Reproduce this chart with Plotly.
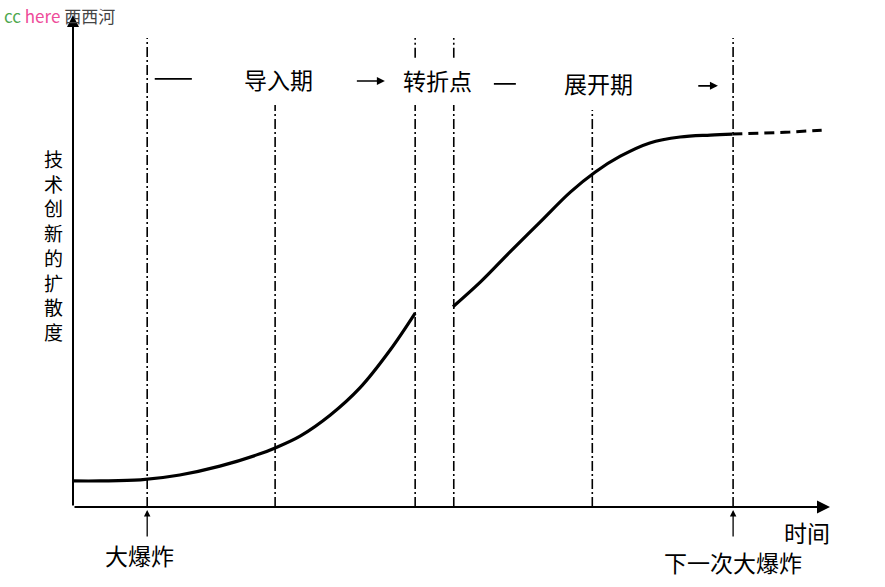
import plotly.graph_objects as go

# ---- data (time in arbitrary units 0..100, diffusion 0..100) ----
intro_t = [0, 3.6, 8.9, 14.1, 19.4, 24.7, 26.7, 30.0, 34.0, 37.9, 41.9, 45.2]
intro_d = [5.3, 5.3, 5.5, 6.5, 8.3, 10.8, 12.0, 14.4, 18.7, 24.2, 31.9, 39.4]

deploy_t = [50.2, 53.8, 57.7, 61.7, 65.7, 69.0, 72.3, 76.2, 80.2, 84.2, 87.1]
deploy_d = [40.7, 45.7, 51.8, 57.9, 64.0, 68.1, 71.3, 74.0, 75.2, 75.6, 75.8]

future_t = [87.1, 90.8, 94.7, 98.9]
future_d = [75.8, 76.0, 76.2, 76.6]

# event/phase boundary lines: time, top of line, optional gap (from, to)
vline_t = [9.8, 26.7, 45.2, 50.3, 68.6, 87.2]
vline_top = [95.3, 81.7, 95.3, 95.3, 80.7, 95.3]
vline_gap = [None, None, (81.7, 91.3), (81.7, 91.3), None, None]

phase_labels = ["导入期", "转折点", "展开期"]
phase_label_t = [27.1, 48.1, 69.4]
phase_label_d = [87.0, 86.8, 86.2]

bang_labels = ["大爆炸", "下一次大爆炸"]
bang_t = [9.8, 87.2]

FONT = "Noto Sans CJK SC, Noto Sans, sans-serif"
LABEL_SIZE = 23

fig = go.Figure()

# vertical dash-dot lines
for t, top, gap in zip(vline_t, vline_top, vline_gap):
    if gap is None:
        xs, ys = [t, t], [0, top]
    else:
        xs, ys = [t, t, None, t, t], [0, gap[0], None, gap[1], top]
    fig.add_trace(go.Scatter(x=xs, y=ys, mode="lines",
                             line=dict(color="black", width=1.6, dash="10px,3px,2px,3px"),
                             hoverinfo="skip", showlegend=False))

# curves
fig.add_trace(go.Scatter(x=intro_t, y=intro_d, mode="lines", line_shape="spline",
                         line=dict(color="black", width=3.2), showlegend=False))
fig.add_trace(go.Scatter(x=deploy_t, y=deploy_d, mode="lines", line_shape="spline",
                         line=dict(color="black", width=3.2), showlegend=False))
fig.add_trace(go.Scatter(x=future_t, y=future_d, mode="lines",
                         line=dict(color="black", width=3, dash="10px,6px"), showlegend=False))

ann = []
# axes with arrows
ann.append(dict(x=100, y=0, ax=0, ay=0, xref="x", yref="y", axref="x", ayref="y",
                showarrow=True, arrowhead=2, arrowsize=1.3, arrowwidth=2, arrowcolor="black", text=""))
ann.append(dict(x=0, y=100, ax=0, ay=0, xref="x", yref="y", axref="x", ayref="y",
                showarrow=True, arrowhead=2, arrowsize=1.2, arrowwidth=2, arrowcolor="black", text=""))

# timeline marks
ann.append(dict(x=15.7, y=87.0, ax=10.6, ay=87.0, xref="x", yref="y", axref="x", ayref="y",
                showarrow=True, arrowhead=0, arrowwidth=1.8, arrowcolor="black", text=""))
ann.append(dict(x=41.2, y=86.6, ax=37.3, ay=86.6, xref="x", yref="y", axref="x", ayref="y",
                showarrow=True, arrowhead=2, arrowsize=1, arrowwidth=1.6, arrowcolor="black", text=""))
ann.append(dict(x=58.5, y=86.0, ax=55.4, ay=86.0, xref="x", yref="y", axref="x", ayref="y",
                showarrow=True, arrowhead=0, arrowwidth=1.8, arrowcolor="black", text=""))
ann.append(dict(x=85.2, y=85.6, ax=82.4, ay=85.6, xref="x", yref="y", axref="x", ayref="y",
                showarrow=True, arrowhead=2, arrowsize=1, arrowwidth=1.6, arrowcolor="black", text=""))

for lab, t, d in zip(phase_labels, phase_label_t, phase_label_d):
    ann.append(dict(x=t, y=d, xref="x", yref="y", text=lab, showarrow=False,
                    xanchor="center", yanchor="middle",
                    font=dict(family=FONT, size=LABEL_SIZE, color="black")))

# big bang arrows and labels (outside plot area -> paper coordinates)
for t in bang_t:
    ann.append(dict(x=t / 100, y=-0.006, ax=0, ay=28, xref="paper", yref="paper",
                    showarrow=True, arrowhead=2, arrowsize=1, arrowwidth=1.3, arrowcolor="black", text=""))
ann.append(dict(x=0.0885, y=-0.098, xref="paper", yref="paper", text=bang_labels[0], showarrow=False,
                xanchor="center", yanchor="middle",
                font=dict(family=FONT, size=LABEL_SIZE, color="black")))
ann.append(dict(x=0.872, y=-0.112, xref="paper", yref="paper", text=bang_labels[1], showarrow=False,
                xanchor="center", yanchor="middle",
                font=dict(family=FONT, size=LABEL_SIZE, color="black")))

# axis titles
ann.append(dict(x=0.970, y=-0.051, xref="paper", yref="paper", text="时间", showarrow=False,
                xanchor="center", yanchor="middle",
                font=dict(family=FONT, size=LABEL_SIZE, color="black")))
ann.append(dict(x=-0.0264, y=0.533, xref="paper", yref="paper", text="<br>".join("技术创新的扩散度"),
                xanchor="center", yanchor="middle",
                showarrow=False, font=dict(family=FONT, size=19, color="black")))

# watermark
ann.append(dict(x=-0.0935, y=0.9995, xref="paper", yref="paper", xanchor="left", yanchor="middle",
                text='<span style="color:#4ea84e">cc</span> <span style="color:#ee4c9a">here</span> '
                     '<span style="color:#444444">西西河</span>',
                showarrow=False, font=dict(family=FONT, size=17)))

fig.update_layout(
    width=885, height=587,
    margin=dict(l=73, r=55, t=15, b=80),
    paper_bgcolor="white", plot_bgcolor="white",
    xaxis=dict(range=[0, 100], visible=False, fixedrange=True),
    yaxis=dict(range=[0, 100], visible=False, fixedrange=True),
    annotations=ann,
    showlegend=False,
)

fig.write_html("out.html")
